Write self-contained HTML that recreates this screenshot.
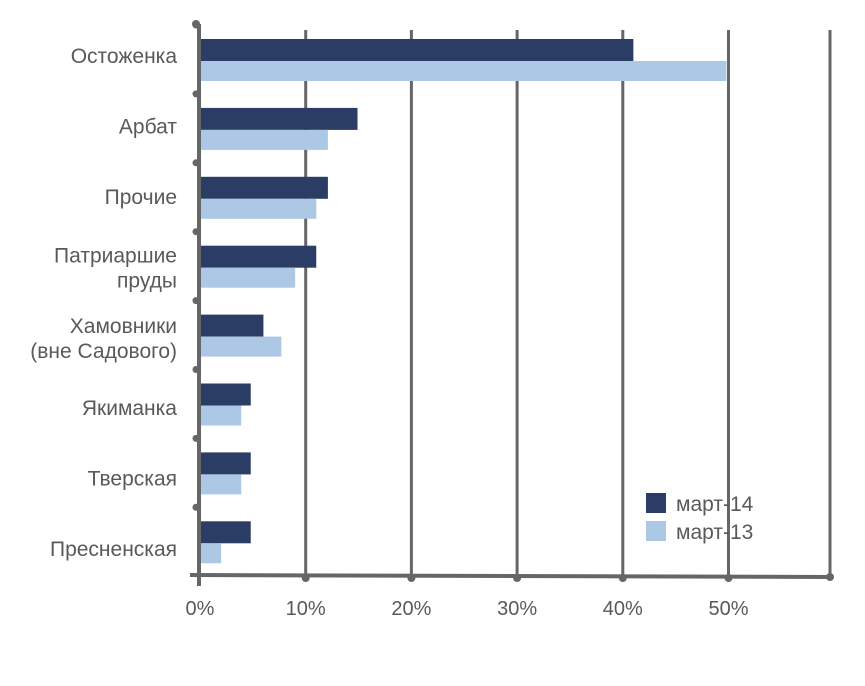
<!DOCTYPE html>
<html><head><meta charset="utf-8"><style>
body{margin:0;background:#fff;width:865px;height:681px;overflow:hidden}
svg text{font-family:"Liberation Sans",sans-serif;fill:#595959}
</style></head><body>
<svg width="865" height="681">
<g id="grid"></g>
<g id="bars"></g>
<g id="axes"></g>
<g id="labels"></g>
<g>
<rect x="646" y="493" width="20" height="20" fill="#2b3d64"/>
<text x="676" y="511" font-size="21">март-14</text>
<rect x="646" y="521" width="20" height="20" fill="#adc8e4"/>
<text x="676" y="539" font-size="21">март-13</text>
</g>
</svg>
<script>
const categories=[["Остоженка"],["Арбат"],["Прочие"],["Патриаршие","пруды"],["Хамовники","(вне Садового)"],["Якиманка"],["Тверская"],["Пресненская"]];
const mar14=[41,14.9,12.1,11,6,4.8,4.8,4.8];
const mar13=[49.8,12.1,11,9,7.7,3.9,3.9,2];
const ticks=[0,10,20,30,40,50];
const NS="http://www.w3.org/2000/svg";
const x0=200,pxPer=10.57,top0=39,step=68.9;
const xs=v=>x0+v*pxPer;
function mk(p,t,a){const e=document.createElementNS(NS,t);for(const k in a)e.setAttribute(k,a[k]);p.appendChild(e);return e;}
const grid=document.getElementById('grid'),bars=document.getElementById('bars'),axes=document.getElementById('axes'),labels=document.getElementById('labels');
ticks.forEach((t,i)=>{
 if(t>0){const l=mk(grid,'line',{x1:xs(t),x2:xs(t),y1:30,y2:577,stroke:'#666','stroke-width':3});
 
 
 mk(axes,'circle',{cx:xs(t),cy:578,r:4,fill:'#666'});}
 const tx=mk(labels,'text',{x:xs(t),y:615,'font-size':20,'text-anchor':'middle'});tx.textContent=t+'%';
 
 
});
mk(grid,'line',{x1:830,x2:830,y1:30,y2:577,stroke:'#666','stroke-width':3});
categories.forEach((c,i)=>{
 const y=top0+i*step;
 const b1=mk(bars,'rect',{x:x0+1,y:y,width:xs(mar14[i])-x0-1,height:22,fill:'#2b3d64'});
 
 
 const b2=mk(bars,'rect',{x:x0+1,y:y+22,width:xs(mar13[i])-x0-1,height:20,fill:'#adc8e4'});
 
 
 const ly=63+i*70.4;
 c.forEach((s,j)=>{const t=mk(labels,'text',{x:177,y:ly+(c.length>1?1:0)+(j-(c.length-1)/2)*25,'font-size':21,'text-anchor':'end'});t.textContent=s;
 
 });
 mk(axes,'circle',{cx:196,cy:y-14,r:3.5,fill:'#666'});
});
mk(axes,'line',{x1:199,x2:199,y1:24,y2:586,stroke:'#666','stroke-width':4});
mk(axes,'line',{x1:190,x2:832,y1:575,y2:577,stroke:'#666','stroke-width':4});
mk(axes,'circle',{cx:830,cy:577,r:4,fill:'#666'});
mk(axes,'circle',{cx:196,cy:24,r:4,fill:'#666'});
</script>
</body></html>
